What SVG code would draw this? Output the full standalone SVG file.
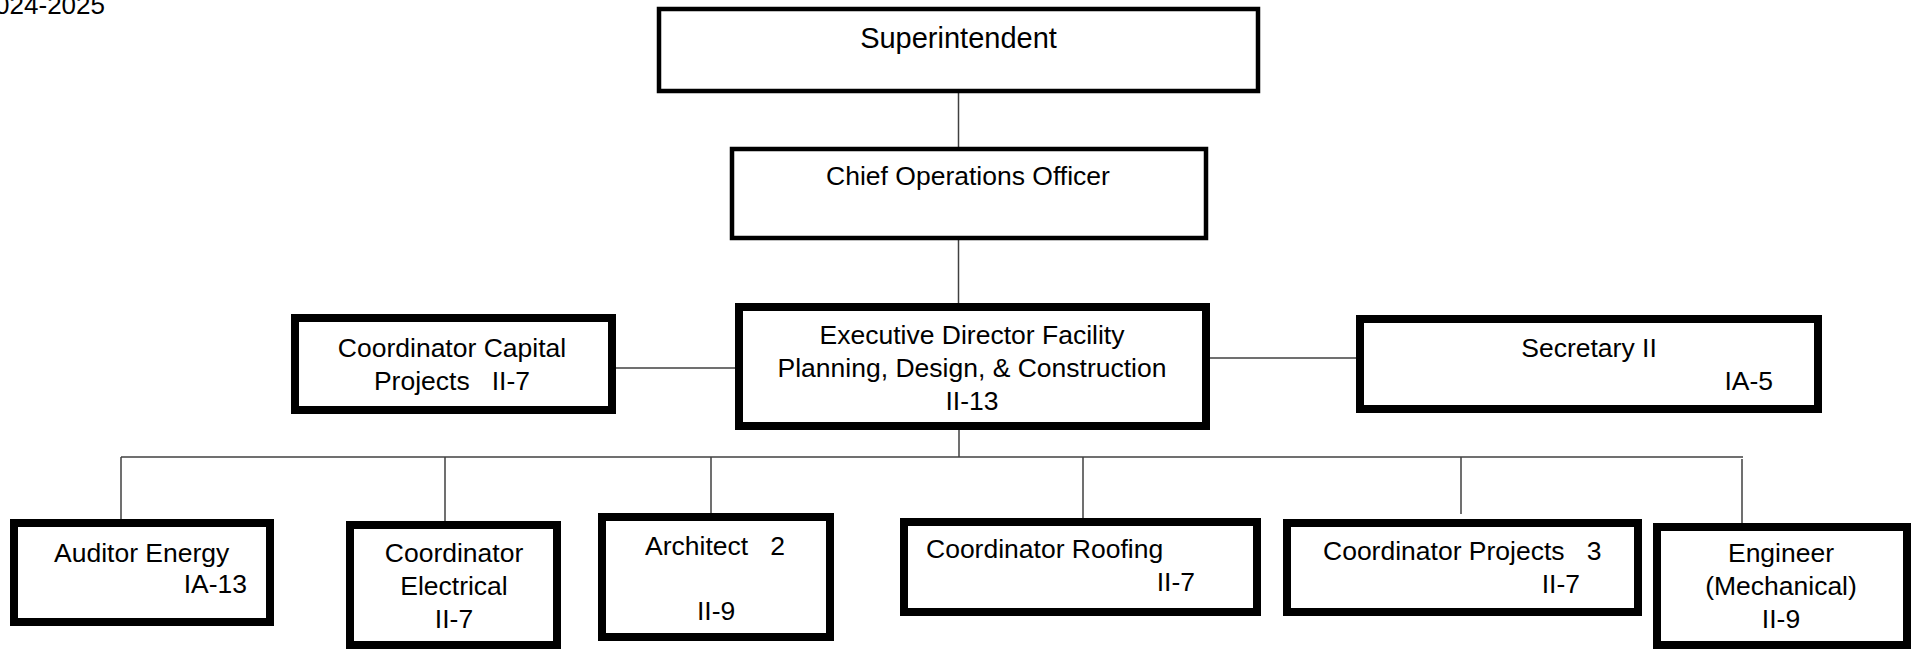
<svg xmlns="http://www.w3.org/2000/svg" width="1917" height="649" viewBox="0 0 1917 649">
  <style>
    text { font-family: "Liberation Sans", Arial, sans-serif; font-size: 26.5px; fill: #000; white-space: pre; }
    .box { fill: #fff; stroke: #000; }
    .thin { stroke-width: 4.5; }
    .thick { stroke-width: 8; }
    .link { stroke: #404040; stroke-width: 1.5; fill: none; }
    .mid { text-anchor: middle; }
    .end { text-anchor: end; }
  </style>

  <rect width="1917" height="649" fill="#fff"/>

  <!-- year heading, partly off the left edge -->
  <text x="105" y="14" class="end" style="font-size:26px">2024-2025</text>

  <!-- reporting lines -->
  <g id="connectors">
    <line class="link" x1="958.5" y1="93" x2="958.5" y2="147"/>
    <line class="link" x1="958.5" y1="240" x2="958.5" y2="303"/>
    <line class="link" x1="615" y1="368" x2="735" y2="368"/>
    <line class="link" x1="1210" y1="358" x2="1356" y2="358"/>
    <line class="link" x1="959" y1="430" x2="959" y2="457"/>
    <line class="link" x1="121" y1="457" x2="1743" y2="457"/>
    <line class="link" x1="121" y1="457" x2="121" y2="519"/>
    <line class="link" x1="445" y1="457" x2="445" y2="521"/>
    <line class="link" x1="711" y1="457" x2="711" y2="513"/>
    <line class="link" x1="1083" y1="457" x2="1083" y2="518"/>
    <line class="link" x1="1461" y1="457" x2="1461" y2="514"/>
    <line class="link" x1="1742" y1="459" x2="1742" y2="523"/>
  </g>

  <g id="superintendent">
    <rect class="box thin" x="659" y="9" width="599" height="82"/>
    <text x="958.5" y="48" class="mid" style="font-size:29px">Superintendent</text>
  </g>

  <g id="chief-operations-officer">
    <rect class="box thin" x="732" y="149" width="474" height="89"/>
    <text x="968" y="185" class="mid">Chief Operations Officer</text>
  </g>

  <g id="executive-director">
    <rect class="box thick" x="739" y="307" width="467" height="119"/>
    <text x="972" y="344" class="mid">Executive Director Facility</text>
    <text x="972" y="377" class="mid">Planning, Design, &amp; Construction</text>
    <text x="972" y="410" class="mid">II-13</text>
  </g>

  <g id="coordinator-capital-projects">
    <rect class="box thick" x="295" y="318" width="317" height="92"/>
    <text x="452" y="357" class="mid">Coordinator Capital</text>
    <text x="452" y="390" class="mid">Projects   II-7</text>
  </g>

  <g id="secretary">
    <rect class="box thick" x="1360" y="319" width="458" height="90"/>
    <text x="1589" y="357" class="mid">Secretary II</text>
    <text x="1773" y="390" class="end">IA-5</text>
  </g>

  <g id="auditor-energy">
    <rect class="box thick" x="14" y="523" width="256" height="99"/>
    <text x="54" y="562">Auditor Energy</text>
    <text x="247" y="593" class="end">IA-13</text>
  </g>

  <g id="coordinator-electrical">
    <rect class="box thick" x="350" y="525" width="207" height="120"/>
    <text x="454" y="562" class="mid">Coordinator</text>
    <text x="454" y="595" class="mid">Electrical</text>
    <text x="454" y="628" class="mid">II-7</text>
  </g>

  <g id="architect">
    <rect class="box thick" x="602" y="517" width="228" height="120"/>
    <text x="645" y="555">Architect   2</text>
    <text x="697" y="620">II-9</text>
  </g>

  <g id="coordinator-roofing">
    <rect class="box thick" x="904" y="522" width="353" height="90"/>
    <text x="926" y="558">Coordinator Roofing</text>
    <text x="1195" y="591" class="end">II-7</text>
  </g>

  <g id="coordinator-projects">
    <rect class="box thick" x="1287" y="523" width="351" height="89"/>
    <text x="1323" y="560">Coordinator Projects   3</text>
    <text x="1580" y="593" class="end">II-7</text>
  </g>

  <g id="engineer-mechanical">
    <rect class="box thick" x="1657" y="527" width="250" height="118"/>
    <text x="1781" y="562" class="mid">Engineer</text>
    <text x="1781" y="595" class="mid">(Mechanical)</text>
    <text x="1781" y="628" class="mid">II-9</text>
  </g>
</svg>
